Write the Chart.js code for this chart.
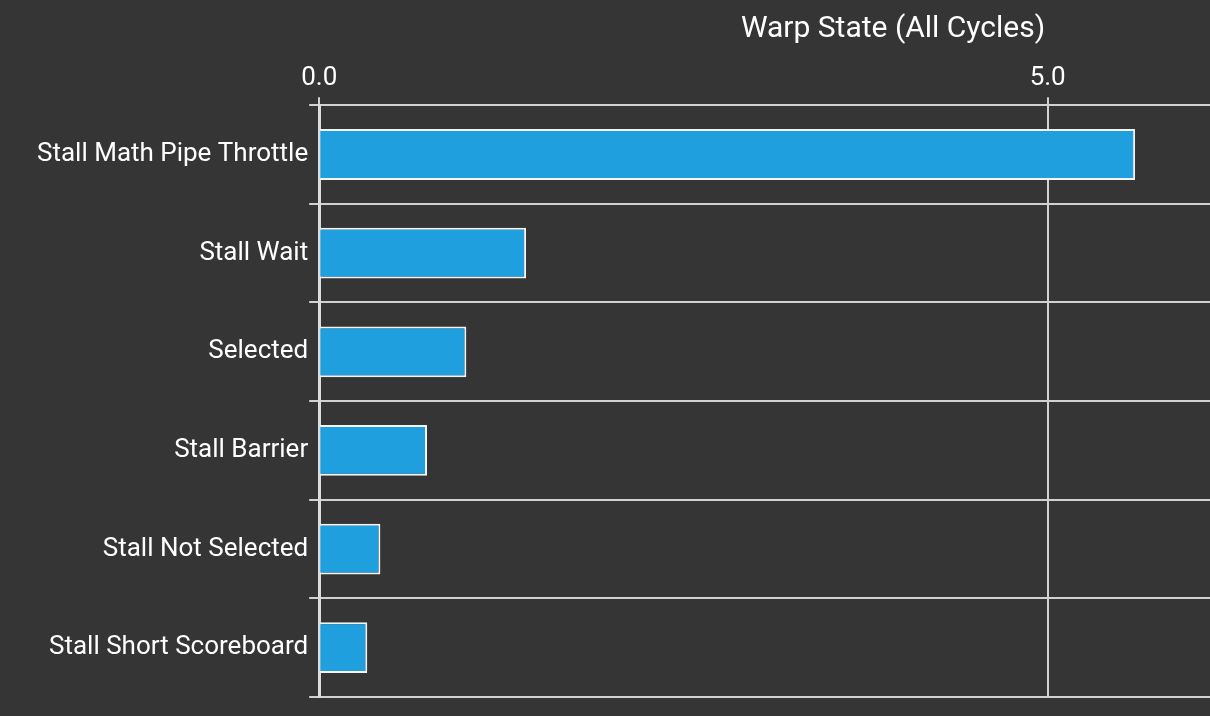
<!DOCTYPE html>
<html><head><meta charset="utf-8">
<script src="https://cdn.jsdelivr.net/npm/chart.js@4.4.0/dist/chart.umd.min.js"></script>
<style>
html,body{margin:0;padding:0;background:#353535;overflow:hidden;width:1210px;height:716px}
#wrap{position:relative;width:1750px;height:716px}
</style></head>
<body><div id="wrap"><canvas id="c"></canvas></div>
<script>
const categories = ['Stall Math Pipe Throttle','Stall Wait','Selected','Stall Barrier','Stall Not Selected','Stall Short Scoreboard'];
const values = [5.60, 1.42, 1.01, 0.74, 0.42, 0.33];
const xTickValues = [0, 5];
const chartTitle = 'Warp State (All Cycles)';

const TEXT = '#ffffff', GRID = '#d2d2d2';
new Chart(document.getElementById('c'), {
  type: 'bar',
  data: {
    labels: categories,
    datasets: [{
      data: values,
      backgroundColor: '#1f9fde',
      borderColor: '#f4f4f4',
      borderWidth: 2,
      categoryPercentage: 1,
      barPercentage: 0.515
    }]
  },
  options: {
    indexAxis: 'y',
    responsive: true,
    maintainAspectRatio: false,
    animation: false,
    layout: { padding: { left: 36, right: 0, top: 0, bottom: 19 } },
    plugins: {
      legend: { display: false },
      tooltip: { enabled: false },
      title: {
        display: true, text: chartTitle, color: TEXT,
        font: { family: 'Roboto', size: 30, weight: 'normal' },
        padding: { top: 11, bottom: 13 }
      }
    },
    scales: {
      x: {
        position: 'top', min: 0, max: 9.8,
        afterBuildTicks: s => { s.ticks = s.ticks.filter(t => xTickValues.includes(t.value) || t.value === s.max); },
        ticks: {
          stepSize: 5, color: TEXT, padding: 3, maxRotation: 0,
          font: { family: 'Roboto', size: 26 },
          callback: v => xTickValues.includes(v) ? v.toFixed(1) : ''
        },
        grid: { color: GRID, lineWidth: 2, tickLength: 8 },
        border: { color: GRID, width: 2 }
      },
      y: {
        ticks: { color: TEXT, padding: 1, font: { family: 'Roboto', size: 26 } },
        grid: { color: GRID, lineWidth: 2, tickLength: 10, offset: true },
        border: { color: '#dcdcdc', width: 3 }
      }
    }
  }
});
</script>
</body></html>
